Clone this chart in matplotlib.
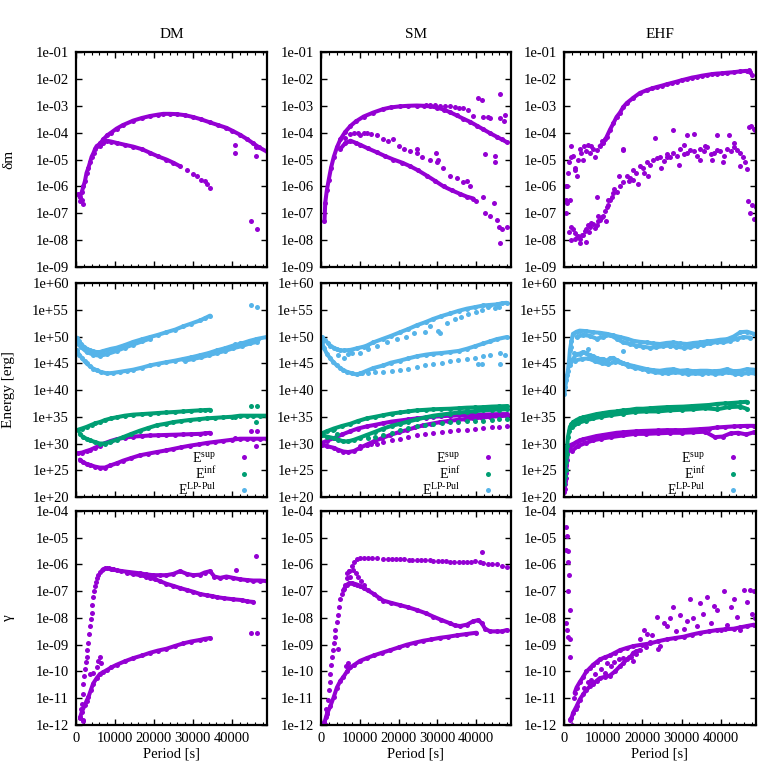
import matplotlib.pyplot as plt
import numpy as np
from matplotlib.ticker import FixedLocator, FuncFormatter, MultipleLocator

plt.rcParams['font.family'] = ['Liberation Serif', 'DejaVu Serif']
plt.rcParams['mathtext.fontset'] = 'custom'
plt.rcParams['mathtext.rm'] = 'Liberation Serif'
plt.rcParams['mathtext.it'] = 'Liberation Serif:italic'

PURPLE = '#9400d3'
GREEN = '#009e73'
BLUE = '#56b4e9'

titles = ['DM', 'SM', 'EHF']
ylabels = ['δm', 'Energy [erg]', 'γ']
legend_labels = [r'E$^{\rm sup}$', r'E$^{\rm inf}$', r'E$^{\rm LP\text{-}Pul}$']

# ---- delta m, DM  (values are log10)
dm_dm_rise_x = [600, 1000, 1500, 1900, 2300, 2700, 3200, 3600, 4000, 4500, 4900, 5300, 5800, 6200]
dm_dm_rise_y = [-6.3, -6.4, -6.2, -6.0, -5.8, -5.5, -5.3, -5.1, -4.9, -4.75, -4.6, -4.5, -4.45, -4.4]
dm_dm_upper_x = [6200, 7000, 8000, 9000, 10400, 12000, 14700, 17000, 19000, 21000, 22400, 24000, 25800, 28000,
                 30100, 32000, 34400, 36500, 38600, 40000, 42000, 44000, 45500, 47000, 48900]
dm_dm_upper_y = [-4.4, -4.25, -4.1, -4.0, -3.85, -3.72, -3.55, -3.45, -3.38, -3.33, -3.3, -3.3, -3.31, -3.35,
                 -3.42, -3.5, -3.62, -3.72, -3.82, -3.92, -4.07, -4.25, -4.4, -4.55, -4.7]
dm_dm_lower_x = [6200, 7000, 7900, 9000, 10400, 12500, 14700, 17000, 19000, 21000, 23200, 25000, 26700]
dm_dm_lower_y = [-4.5, -4.38, -4.3, -4.33, -4.38, -4.45, -4.52, -4.62, -4.75, -4.88, -5.0, -5.12, -5.25]
dm_dm_out_x = [1100, 1450, 1900, 28500, 30100, 31000, 32000, 33000, 33500, 34400, 40900, 40900, 46300, 46300, 44800, 46500]
dm_dm_out_y = [-6.55, -6.5, -6.65, -5.4, -5.55, -5.6, -5.75, -5.8, -5.9, -6.06, -4.45, -4.75, -4.55, -4.85, -7.3, -7.6]

# ---- delta m, SM
sm_dm_upper_x = [900, 1100, 1500, 2000, 2600, 3300, 4100, 5000, 6200, 7600, 9000, 11000, 13500, 16100, 18000,
                 20400, 22500, 24700, 26500, 28200, 30000, 31600, 33300, 35000, 36700, 38500, 40200, 41900,
                 43600, 45300, 46600, 47900]
sm_dm_upper_y = [-7.3, -6.6, -6.15, -5.75, -5.3, -4.9, -4.55, -4.25, -3.98, -3.75, -3.58, -3.4, -3.25, -3.12,
                 -3.06, -3.02, -3.0, -2.99, -3.0, -3.02, -3.07, -3.14, -3.24, -3.36, -3.48, -3.6, -3.74,
                 -3.88, -4.02, -4.15, -4.25, -4.35]
sm_dm_top_x = [27000, 28200, 29500, 30800, 32000, 33300, 34500, 35700, 36700, 37800, 39300, 40600, 41600,
               41900, 43000, 43600, 46200, 46200, 47500, 47200]
sm_dm_top_y = [-2.96, -2.97, -2.98, -2.99, -3.0, -3.02, -3.05, -3.08, -3.1, -3.15, -3.38, -2.7, -2.8,
               -3.4, -3.4, -3.45, -2.55, -3.45, -3.35, -3.55]
sm_dm_lower_x = [5000, 6200, 7600, 9000, 10100, 12000, 14400, 16500, 18700, 21000, 23000, 25000, 27300, 29500,
                 31600, 33800, 35900, 37600, 39300]
sm_dm_lower_y = [-4.6, -4.4, -4.3, -4.38, -4.45, -4.58, -4.73, -4.87, -5.0, -5.12, -5.25, -5.4, -5.6, -5.8,
                 -6.0, -6.15, -6.28, -6.38, -6.45]
sm_dm_scat_x = [6200, 7600, 8600, 9500, 10100, 11000, 11800, 13000, 14400, 16100, 17400, 18700, 20000, 21500,
                23000, 24700, 26000, 28000, 29900, 31500, 33300, 35000, 36500, 37600, 38500, 40100, 41900,
                42300, 43600, 44500, 45300, 46000, 46600, 47900, 46200, 24700, 29600, 30300, 42400, 44900, 44900]
sm_dm_scat_y = [-4.2, -4.05, -4.0, -4.0, -4.1, -4.0, -4.0, -4.05, -4.1, -4.25, -4.3, -4.25, -4.5, -4.6,
                -4.7, -4.75, -4.9, -5.0, -5.1, -5.3, -5.6, -5.7, -5.85, -5.8, -6.0, -6.55, -6.4,
                -7.0, -7.1, -6.6, -7.25, -7.5, -7.6, -7.5, -8.1, -4.6, -4.75, -5.0, -4.8, -4.85, -5.1]

# ---- delta m, EHF
ehf_dm_upper_x = [9100, 10000, 10900, 11700, 12600, 13400, 14300, 15100, 16000, 17700, 19400, 21100, 22500,
                  23700, 25000, 26200, 27500, 28800, 30000, 31400, 32700, 33900, 35200, 36500, 37800, 39100,
                  40400, 41600, 43300, 45000, 46600]
ehf_dm_upper_y = [-4.5, -4.4, -4.15, -3.9, -3.65, -3.42, -3.25, -3.05, -2.9, -2.7, -2.52, -2.42, -2.35,
                  -2.3, -2.25, -2.2, -2.15, -2.1, -2.05, -2.0, -1.95, -1.92, -1.88, -1.85, -1.82, -1.8,
                  -1.79, -1.77, -1.75, -1.72, -1.7]
ehf_dm_uscat_x = [400, 500, 600, 700, 800, 1000, 1300, 1700, 1800, 2300, 2700, 2900, 3200, 3600, 4000, 4300,
                  4900, 5000, 5700, 6000, 6600, 7000, 7400, 8000, 8300, 9600, 10500, 15000, 47200, 47600, 48000]
ehf_dm_uscat_y = [-6.0, -7.0, -6.5, -6.6, -6.0, -5.5, -5.1, -4.9, -4.5, -4.85, -5.4, -5.3, -5.6, -5.0, -4.6,
                  -4.75, -5.0, -4.5, -4.7, -4.45, -4.75, -4.5, -4.6, -4.9, -4.65, -4.3, -4.25, -4.65,
                  -1.65, -1.75, -1.85]
ehf_dm_lower_x = [1500, 1900, 2300, 2700, 3200, 3600, 4000, 4500, 4900, 5300, 5700, 6100, 6600, 7000, 7400,
                  7900, 8300, 8700, 9100, 9600, 10000, 10500, 10900, 11300, 11700, 12200, 12600, 13400, 14300,
                  15100, 16000, 16800, 17700, 18500, 19400, 20200, 21100, 22000, 22800, 23700, 24500, 25400,
                  26200, 27100, 27900, 28800, 29600, 30500, 31400, 32200, 33100, 33900, 34800, 35700, 36500,
                  37400, 38200, 39100, 39900, 40800, 41600, 42500, 43300, 44200, 45000, 45700, 46300]
ehf_dm_lower_y = [-6.5, -7.5, -7.6, -7.75, -7.9, -7.85, -7.95, -7.8, -7.8, -7.65, -7.6, -7.45, -7.5, -7.35,
                  -7.4, -7.55, -7.45, -7.3, -7.25, -7.15, -7.1, -6.9, -6.75, -6.7, -6.5, -6.4, -6.25, -6.2,
                  -6.0, -5.85, -5.6, -5.7, -5.4, -5.5, -5.25, -5.3, -5.1, -5.2, -5.0, -4.95, -4.9, -5.05,
                  -4.8, -4.9, -4.75, -4.85, -4.6, -4.8, -4.75, -4.65, -4.7, -4.85, -4.6, -4.7, -4.55, -4.8,
                  -4.75, -4.65, -4.7, -4.85, -4.6, -4.7, -4.55, -4.65, -4.75, -4.9, -5.1]
ehf_dm_lscat_x = [1300, 1800, 2900, 4200, 5500, 6500, 8300, 8800, 10800, 11200, 12800, 14000, 15100, 16600,
                  17700, 18900, 20300, 21500, 23200, 24800, 26200, 27900, 29300, 30500, 31300, 33100, 34600,
                  36000, 37800, 39100, 40500, 42000, 43500, 44800, 46600, 47200, 47800, 48400, 48800, 47000,
                  47500, 48000, 48600, 48900]
ehf_dm_lscat_y = [-7.7, -8.0, -7.95, -8.1, -8.05, -7.7, -6.4, -7.1, -7.3, -6.5, -6.1, -5.6, -4.6, -5.8,
                  -5.75, -5.9, -5.5, -5.6, -4.2, -5.3, -4.9, -3.9, -5.2, -4.45, -4.1, -4.05, -5.0, -4.5,
                  -5.0, -4.1, -5.1, -4.1, -4.4, -5.25, -5.35, -3.8, -3.75, -3.85, -3.9, -6.55, -7.0, -6.7,
                  -7.2, -6.75]

# ---- energy, DM
dm_lp_upper_x = [200, 700, 1300, 2000, 2800, 3600, 4400, 5300, 6100, 7000, 8000, 9000, 10400, 12500, 14700,
                 17000, 19000, 21000, 23200, 25500, 27500, 29500, 31800, 33000, 34400]
dm_lp_upper_y = [49.8, 49.2, 48.6, 48.1, 47.7, 47.4, 47.2, 47.1, 47.1, 47.3, 47.5, 47.7, 47.9, 48.4, 49.0,
                 49.5, 49.9, 50.3, 50.8, 51.3, 51.9, 52.4, 53.0, 53.4, 53.9]
dm_lp_upper2_x = [200, 1300, 2800, 4400, 6100, 8000, 10400, 12500, 14700, 17000, 19000]
dm_lp_upper2_y = [48.8, 48.0, 47.1, 46.6, 46.4, 46.7, 47.3, 47.9, 48.5, 49.1, 49.6]
dm_lp_lower_x = [200, 800, 1500, 2200, 2700, 3500, 4400, 5300, 6300, 7900, 9500, 11300, 13000, 14700, 17000,
                 19000, 21000, 23200, 25500, 27500, 29500, 31800, 34000, 36100, 38200, 40300, 42500, 44600,
                 46800, 48900]
dm_lp_lower_y = [47.4, 46.6, 46.0, 45.4, 45.0, 44.5, 44.0, 43.7, 43.4, 43.1, 43.2, 43.4, 43.6, 43.8, 44.2,
                 44.6, 44.9, 45.2, 45.5, 45.8, 46.1, 46.5, 46.9, 47.4, 47.8, 48.3, 48.7, 49.2, 49.6, 49.9]
dm_lp_lower2_x = [28000, 30000, 32000, 34000, 36100, 38200, 40300, 42500, 44600, 46500]
dm_lp_lower2_y = [45.5, 45.8, 46.1, 46.5, 46.9, 47.3, 47.8, 48.2, 48.7, 49.0]
dm_lp_out_x = [44800, 46500, 40900, 42000, 46300]
dm_lp_out_y = [55.8, 55.5, 48.6, 48.8, 49.5]
dm_inf_upper_x = [600, 1500, 2700, 4000, 5000, 6100, 7500, 9000, 10400, 12500, 14700, 17000, 19000, 21000,
                  23200, 25500, 27500, 29500, 31800, 33000, 34400]
dm_inf_upper_y = [32.6, 32.8, 33.1, 33.5, 33.8, 34.0, 34.4, 34.7, 34.9, 35.2, 35.4, 35.5, 35.6, 35.7,
                  35.8, 35.9, 36.0, 36.1, 36.2, 36.25, 36.3]
dm_low_x = [1000, 1800, 2700, 3600, 4800, 6100, 7400, 8800, 10400, 12100, 14200, 16400, 18500, 20700, 23000,
            25000, 27000, 29200, 31500, 33500, 35600, 37800, 40000, 42100, 44000, 45500, 47200, 48900]
dm_inf_lower_y = [31.8, 31.2, 30.9, 30.6, 30.3, 30.0, 30.0, 30.3, 30.7, 31.2, 31.8, 32.4, 32.9, 33.4, 33.7,
                  34.0, 34.2, 34.4, 34.55, 34.7, 34.8, 34.9, 35.0, 35.2, 35.2, 35.2, 35.2, 35.2]
dm_inf_out_x = [44800, 46500, 46300, 40900]
dm_inf_out_y = [37.0, 37.0, 34.0, 35.0]
dm_sup_upper_x = [600, 1500, 2700, 3600, 4800, 6100, 7500, 9000, 10400, 12500, 14700, 17000, 19000, 21000,
                  23200, 25500, 27500, 29500, 31800, 33000, 34400]
dm_sup_upper_y = [28.2, 28.3, 28.6, 28.8, 29.2, 29.6, 30.1, 30.5, 30.8, 31.1, 31.3, 31.4, 31.5, 31.55,
                  31.6, 31.65, 31.7, 31.75, 31.8, 31.9, 32.0]
dm_sup_lower_y = [27.0, 26.5, 26.2, 26.0, 25.7, 25.5, 25.5, 25.9, 26.3, 26.8, 27.3, 27.8, 28.1, 28.4, 28.7,
                  29.0, 29.3, 29.6, 29.85, 30.1, 30.3, 30.5, 30.7, 30.9, 30.9, 30.9, 30.9, 30.9]
dm_sup_out_x = [44800, 46500, 46300, 40900]
dm_sup_out_y = [32.4, 32.4, 29.6, 31.0]

# ---- energy, SM
sm_lp_upper_x = [200, 1000, 1800, 2400, 3300, 4100, 5000, 6000, 7600, 9300, 11000, 11800, 13500, 16100, 18000,
                 20400, 22500, 24700, 27000, 29000, 31000, 33300, 35500, 37600, 39800, 41900, 43600, 45300,
                 46600, 47900]
sm_lp_upper_y = [49.9, 49.3, 48.8, 48.3, 47.9, 47.6, 47.4, 47.4, 47.5, 47.8, 48.1, 48.3, 48.9, 49.6, 50.1,
                 50.8, 51.4, 52.1, 52.7, 53.3, 53.8, 54.3, 54.8, 55.2, 55.5, 55.8, 55.9, 56.0, 56.2, 56.3]
sm_lp_uscat_x = [4500, 6000, 7000, 8000, 10000, 12000, 14500, 17000, 19500, 22000, 24000, 26900, 28000, 30300,
                 30800, 32500, 34500, 36000, 38000, 40000, 41500, 43000, 44800, 46000]
sm_lp_uscat_y = [46.5, 45.9, 46.8, 46.9, 47.0, 47.6, 48.2, 48.9, 49.5, 50.0, 50.6, 50.8, 51.9, 51.1,
                 50.7, 52.6, 53.2, 53.6, 54.2, 54.5, 55.0, 55.5, 55.3, 55.5]
sm_lp_lower_x = [200, 800, 1500, 2300, 3200, 4100, 5000, 5800, 6700, 8000, 9300, 10500, 11800, 13500, 16100,
                 18000, 20400, 22500, 24700, 27000, 29000, 31000, 33300, 35500, 37600, 39800, 41900, 43600,
                 45300, 47900]
sm_lp_lower_y = [49.0, 47.8, 46.8, 46.0, 45.2, 44.6, 44.1, 43.7, 43.4, 43.1, 42.9, 43.2, 43.6, 44.1, 44.6,
                 45.1, 45.5, 45.9, 46.3, 46.6, 46.8, 46.9, 47.1, 47.3, 47.7, 48.2, 48.7, 49.1, 49.5, 49.9]
sm_lp_low2_x = [10100, 12000, 14000, 16100, 18200, 20400, 22500, 24700, 26800, 29000, 31100, 33300, 35400,
                37600, 39700, 40600, 41600, 41900, 43600, 46200, 46200, 47500]
sm_lp_low2_y = [43.1, 43.1, 43.3, 43.4, 43.55, 43.7, 44.0, 44.3, 44.6, 44.9, 45.1, 45.4, 45.6,
                45.8, 46.0, 44.9, 44.9, 46.3, 46.5, 44.9, 46.9, 46.5]
sm_up_x = [200, 1500, 3300, 5500, 7600, 9500, 11800, 14000, 16100, 18200, 20400, 22500, 24700, 27000, 29000,
           31000, 33300, 35500, 37600, 39800, 41900, 44000, 46000, 47900]
sm_inf_upper_y = [31.9, 32.3, 32.8, 33.3, 33.7, 34.2, 34.7, 35.0, 35.3, 35.6, 35.8, 36.0, 36.2, 36.3, 36.4,
                  36.45, 36.5, 36.6, 36.7, 36.75, 36.8, 36.9, 36.95, 37.0]
sm_sup_upper_y = [30.1, 30.5, 31.0, 31.7, 32.3, 32.8, 33.2, 33.5, 33.8, 34.1, 34.3, 34.5, 34.7, 34.85, 35.0,
                  35.1, 35.2, 35.25, 35.3, 35.35, 35.4, 35.45, 35.5, 35.5]
sm_inf_lower_x = [200, 1500, 3300, 4500, 5800, 7000, 8500, 10000, 11800, 14000, 16100, 18200, 20400, 22500,
                  24700, 27000, 29000, 31000, 33300, 35500, 37600, 39800, 41900, 44000, 46000, 47900]
sm_inf_lower_y = [31.6, 31.3, 31.0, 30.7, 30.4, 30.4, 30.7, 31.1, 31.6, 32.2, 32.8, 33.3, 33.7, 34.1,
                  34.5, 34.9, 35.2, 35.4, 35.6, 35.8, 35.9, 36.05, 36.2, 36.3, 36.35, 36.4]
sm_inf_low2_x = [3000, 4000, 12000, 14000, 16100, 18200, 20400, 22500, 24700, 26800, 29000, 31100, 33300,
                 35400, 37600, 39700, 41900, 44000, 46000, 47900]
sm_inf_low2_y = [32.5, 31.8, 31.0, 31.3, 31.6, 32.0, 32.5, 32.9, 33.3, 33.5, 33.7, 33.85, 34.0,
                 34.1, 34.2, 34.25, 34.3, 34.4, 34.5, 34.6]
sm_sup_lower_x = [200, 1500, 3300, 4500, 5800, 7000, 8500, 10100, 11800, 13600, 15700, 17900, 20000, 22100,
                  24300, 26400, 28500, 30700, 32800, 35000, 37100, 39300, 41500, 43700, 45800, 47900]
sm_sup_lower_y = [29.8, 29.5, 29.2, 28.8, 28.5, 28.4, 28.6, 29.2, 29.8, 30.4, 31.0, 31.6, 32.1, 32.5,
                  33.0, 33.4, 33.7, 34.0, 34.2, 34.4, 34.55, 34.7, 34.85, 35.0, 35.1, 35.2]
sm_sup_low2_x = [10100, 11800, 13000, 14400, 16100, 18200, 20400, 22500, 24700, 26800, 29000, 31100, 33300,
                 35400, 37600, 39700, 41900, 44000, 46000, 47900]
sm_sup_low2_y = [29.6, 29.8, 29.9, 29.9, 30.3, 30.6, 30.9, 31.2, 31.5, 31.7, 31.9, 32.1, 32.3,
                 32.45, 32.6, 32.75, 32.9, 33.0, 33.1, 33.2]

# ---- energy, EHF
ehf_lp_upper_x = [100, 300, 600, 800, 1000, 1300, 1500, 1900, 2300, 3200, 4000, 5700, 7400, 9100, 10900, 12600,
                  14300, 16000, 17700, 19400, 21100, 22800, 24500, 26200, 27900, 29600, 31400, 33100, 34800,
                  36500, 38200, 39900, 41600, 43300, 45000, 46700, 48500]
ehf_lp_upper_y = [39.3, 40.5, 41.8, 42.8, 43.6, 45.5, 47.4, 49.2, 50.5, 50.9, 51.1, 51.0, 50.8, 50.7, 50.5,
                  50.2, 49.9, 49.6, 49.2, 49.0, 48.9, 48.7, 48.6, 48.8, 48.9, 48.7, 48.6, 48.8, 48.9, 49.1,
                  49.2, 49.4, 49.5, 50.0, 50.8, 50.9, 50.5]
ehf_lp_upper2_x = [3200, 4900, 6600, 8300, 10000, 11700, 13400, 15100, 16800, 18500, 20200, 21900, 23600,
                   25300, 27000, 28700, 30500, 32200, 33900, 35600, 37300, 39000, 40700, 42400, 44100, 45800,
                   47600]
ehf_lp_upper2_y = [49.9, 50.3, 50.1, 49.6, 49.9, 50.3, 49.6, 48.9, 48.6, 48.3, 48.1, 47.9, 48.0, 48.2, 48.3,
                   48.1, 47.9, 48.0, 48.3, 48.5, 48.7, 49.0, 48.9, 49.2, 49.6, 49.9, 49.8]
ehf_lp_lower_x = [1500, 2300, 3200, 4000, 4900, 5700, 6600, 7400, 8300, 9100, 10000, 10900, 11700, 12600,
                  13400, 14300, 15100, 16000, 17700, 19400, 21100, 22800, 24500, 26200, 27900, 29600, 31400,
                  33100, 34800, 36500, 38200, 39900, 41600, 43300, 45000, 46700, 48500]
ehf_lp_lower_y = [44.6, 45.8, 46.7, 46.8, 47.1, 46.9, 46.5, 46.3, 46.0, 45.8, 45.8, 45.5, 45.9, 46.0, 45.6,
                  45.3, 45.0, 44.8, 44.5, 44.2, 43.9, 43.7, 43.6, 43.8, 43.9, 43.6, 43.7, 43.5, 43.6, 43.6,
                  43.5, 43.6, 43.9, 43.5, 43.6, 43.9, 43.8]
ehf_lp_lower2_x = [2800, 4500, 6200, 7900, 9600, 11300, 13000, 14700, 16400, 18100, 19800, 21500, 23200, 24900,
                   26600, 28300, 30000, 31700, 33400, 35100, 36800, 38500, 40200, 41900, 43600, 45300, 47000,
                   48700]
ehf_lp_lower2_y = [45.5, 45.8, 45.9, 45.4, 45.0, 44.8, 45.3, 45.1, 44.5, 44.1, 44.0, 43.6, 43.3, 43.2, 43.1,
                   43.3, 43.2, 43.0, 43.1, 43.0, 43.2, 43.0, 43.1, 43.3, 43.0, 43.0, 43.2, 43.1]
ehf_lp_scat_x = [1800, 6200, 15000, 27000, 31000, 2500]
ehf_lp_scat_y = [48.0, 47.6, 47.3, 48.2, 48.5, 47.0]
ehf_inf_x = [100, 300, 600, 800, 1000, 1300, 1500, 1900, 2300, 3200, 4000, 4900, 6600, 8300, 10000, 11700,
             13400, 15100, 16800, 18500, 20200, 22000, 24000, 26200, 28300, 30500, 32600, 34800, 37000, 39100,
             41200, 43300, 45000, 46600]
ehf_inf_y = [22.5, 25.0, 27.5, 29.5, 31.2, 32.3, 33.1, 33.6, 34.0, 34.4, 34.7, 34.9, 35.2, 35.5, 35.7, 35.9,
             36.0, 36.2, 36.3, 36.5, 36.5, 36.6, 36.7, 36.8, 36.85, 36.9, 37.0, 37.1, 37.2, 37.4, 37.5, 37.6,
             37.7, 37.8]
ehf_inf2_x = [2000, 3500, 5500, 7500, 9500, 12000, 15000, 18000, 21000, 24000, 27000, 30000, 33000, 36000,
              39100, 42000, 45000, 46600]
ehf_inf2_y = [33.0, 33.8, 34.3, 34.7, 35.0, 35.3, 35.6, 35.9, 36.0, 36.0, 36.2, 36.3, 36.4, 36.6, 36.4, 36.8,
              36.9, 36.5]
ehf_inf_scat_x = [200, 400, 500, 700]
ehf_inf_scat_y = [24.0, 26.5, 25.0, 28.0]
ehf_sup_x = [100, 300, 600, 800, 1000, 1300, 1500, 1900, 2300, 3200, 4000, 4900, 6600, 8300, 10000, 11700,
             13400, 15100, 16800, 18500, 20200, 22000, 24000, 26200, 28300, 30500, 32600, 34800, 37000, 39100,
             41200, 43300, 45000, 46700, 48500]
ehf_sup_y = [20.9, 22.5, 25.0, 27.0, 28.7, 29.2, 29.6, 29.8, 29.9, 30.3, 30.6, 30.8, 31.1, 31.4, 31.6, 31.8,
             32.0, 32.1, 32.2, 32.3, 32.35, 32.4, 32.45, 32.5, 32.5, 32.5, 32.6, 32.7, 32.8, 33.0, 33.1, 33.2,
             33.25, 33.3, 33.3]
ehf_sup2_x = [2000, 3500, 5500, 7500, 9500, 12000, 15000, 18000, 21000, 24000, 27000, 30000, 33000, 36000,
              38500, 40500, 42500, 44500, 46500, 48500]
ehf_sup2_y = [28.6, 29.5, 30.1, 30.6, 30.9, 31.2, 31.5, 31.8, 31.8, 31.9, 32.0, 32.0, 32.1, 32.2, 31.2, 31.3,
              31.9, 32.0, 31.7, 32.1]
ehf_sup_scat_x = [200, 300, 400, 500, 600]
ehf_sup_scat_y = [21.5, 23.0, 24.5, 23.5, 26.0]

# ---- gamma, DM
dm_g_rise_x = [1000, 1300, 1500, 1700, 1900, 2100, 2300, 2500, 2700, 2900, 3200, 3400, 3600, 3800, 4000, 4200,
               4400, 4700, 4900, 5100, 5300, 5700, 6100, 6600, 7000, 7500, 7900, 8500, 9000, 9600]
dm_g_rise_y = [-11.7, -11.4, -11.2, -10.85, -10.45, -10.15, -9.9, -9.65, -9.45, -9.2, -8.95, -8.6, -8.3, -8.05,
               -7.8, -7.5, -7.2, -7.0, -6.8, -6.65, -6.5, -6.38, -6.28, -6.2, -6.17, -6.15, -6.14, -6.15,
               -6.17, -6.18]
dm_g_flat_x = [9600, 10400, 11500, 13000, 14700, 16400, 18000, 19800, 21500, 23200, 25000, 26700, 28400, 30100,
               31800, 33000, 34400, 35500, 37000, 38600, 40300, 42000, 43800, 45500, 47200, 48900]
dm_g_flat_y = [-6.18, -6.22, -6.24, -6.27, -6.3, -6.33, -6.37, -6.4, -6.4, -6.4, -6.35, -6.25, -6.35, -6.4,
               -6.38, -6.3, -6.25, -6.45, -6.5, -6.45, -6.5, -6.55, -6.58, -6.6, -6.6, -6.62]
dm_g_dec_x = [13000, 14700, 16400, 18000, 19000, 20300, 21500, 23200, 25000, 26700, 28400, 30100, 31800, 33500,
              35000, 36100, 38000, 40300, 42500, 44000, 45500]
dm_g_dec_y = [-6.3, -6.35, -6.4, -6.45, -6.5, -6.55, -6.62, -6.72, -6.8, -6.88, -6.95, -7.02, -7.1, -7.15,
              -7.18, -7.22, -7.26, -7.3, -7.33, -7.38, -7.4]
dm_g_low_x = [1000, 1500, 2300, 2700, 3200, 3800, 4400, 5300, 6100, 7000, 7900, 9000, 10400, 12500, 14700,
              17000, 19000, 21000, 23200, 25300, 27500, 29500, 31800, 33000, 34400]
dm_g_low_y = [-11.75, -11.5, -11.25, -11.1, -10.95, -10.7, -10.45, -10.25, -10.1, -10.02, -9.95, -9.85, -9.75,
              -9.62, -9.5, -9.4, -9.3, -9.22, -9.15, -9.05, -8.95, -8.88, -8.82, -8.78, -8.75]
dm_g_out_x = [41000, 46300, 44800, 46500, 3600, 4400, 5300, 5700, 6100, 6500, 1700, 1900]
dm_g_out_y = [-6.2, -5.7, -8.55, -8.55, -10.1, -10.05, -9.85, -9.6, -9.45, -9.7, -11.8, -11.85]

# ---- gamma, SM
sm_g_rise_x = [900, 1200, 1400, 1700, 2000, 2200, 2400, 2600, 2800, 3000, 3300, 3500, 3700, 4000, 4300, 4600,
               5000, 5400, 5800, 6200, 6700, 7300, 8000, 8600, 9300, 10100, 11000, 12000, 13200, 14400]
sm_g_rise_y = [-11.95, -11.7, -11.4, -11.05, -10.7, -10.4, -10.1, -9.75, -9.45, -9.2, -8.95, -8.7, -8.45,
               -8.15, -7.9, -7.6, -7.3, -7.1, -6.95, -6.75, -6.5, -6.25, -6.05, -5.9, -5.8, -5.76, -5.75,
               -5.75, -5.75, -5.75]
sm_g_flat_x = [16100, 17200, 18300, 19400, 20400, 21500, 22600, 23600, 24700, 25800, 26900, 28000, 29000, 30100,
               31200, 32200, 33300, 34400, 35500, 36500, 37600, 38700, 39800, 40900, 41900, 43000, 44100, 45300,
               46600, 47900]
sm_g_flat_y = [-5.8, -5.8, -5.8, -5.8, -5.8, -5.81, -5.82, -5.83, -5.83, -5.84, -5.84, -5.85, -5.86, -5.86,
               -5.87, -5.88, -5.89, -5.9, -5.9, -5.91, -5.91, -5.9, -5.88, -5.9, -5.95, -5.97, -5.99, -6.0,
               -6.05, -6.1]
sm_g_mid_x = [6000, 6700, 7300, 8000, 8600, 9300, 10100, 11000, 12000, 13600, 15000, 16100, 18000, 20400, 22500,
              24700, 27000, 29000, 31000, 33300, 34600, 35900, 37600, 39300, 40600, 41500, 42300, 43600, 45300,
              46600, 47900]
sm_g_mid_y = [-6.9, -6.75, -6.7, -6.7, -6.72, -6.75, -6.8, -6.88, -6.96, -7.1, -7.25, -7.35, -7.43, -7.52,
              -7.6, -7.7, -7.82, -7.95, -8.07, -8.2, -8.28, -8.3, -8.25, -8.12, -8.08, -8.2, -8.4, -8.5,
              -8.5, -8.5, -8.45]
sm_g_peak_x = [6700, 7300, 7600, 8300, 9000, 9600, 10200, 11000]
sm_g_peak_y = [-6.3, -6.25, -6.45, -6.2, -6.3, -6.45, -6.6, -6.75]
sm_g_low_x = [900, 1500, 2400, 3300, 4100, 5000, 5800, 6700, 7600, 8600, 10100, 11800, 13600, 15700, 17900,
              20000, 22100, 24300, 26400, 28500, 30700, 32800, 35000, 37500, 40100]
sm_g_low_y = [-11.9, -11.6, -11.3, -10.95, -10.6, -10.35, -10.2, -10.0, -9.85, -9.75, -9.6, -9.5, -9.4, -9.3,
              -9.2, -9.1, -9.0, -8.92, -8.85, -8.8, -8.74, -8.7, -8.65, -8.6, -8.55]
sm_g_out_x = [41600, 4500, 6500, 7000, 1200, 1500]
sm_g_out_y = [-5.55, -9.15, -9.8, -9.7, -12.0, -11.5]

# ---- gamma, EHF
ehf_g_col_x = [600, 850, 600, 1000, 1000, 1200, 1000, 1450, 600, 850, 1000, 1450, 1600]
ehf_g_col_y = [-4.6, -4.95, -5.45, -5.5, -5.9, -6.4, -7.0, -7.7, -8.2, -8.45, -8.7, -8.8, -9.45]
ehf_g_upper_x = [2700, 3200, 4000, 4900, 5700, 6600, 7400, 8300, 9100, 10400, 11700, 13000, 14300, 16000, 17700,
                 19800, 22000, 24000, 26200, 28300, 30500, 32600, 34800, 37000, 39100, 41200, 43300, 45000,
                 46700, 48500]
ehf_g_upper_y = [-10.8, -10.6, -10.4, -10.2, -10.0, -9.88, -9.75, -9.65, -9.55, -9.47, -9.4, -9.3, -9.2,
                 -9.12, -9.05, -9.0, -8.95, -8.87, -8.8, -8.75, -8.7, -8.62, -8.55, -8.5, -8.45, -8.42,
                 -8.4, -8.35, -8.3, -8.25]
ehf_g_lower_x = [1500, 1900, 2300, 3200, 4000, 4900, 5700, 6600, 7400, 8300, 9100, 10400, 11700, 13000, 14300,
                 15100, 16000, 17000, 17700, 18500, 19400]
ehf_g_lower_y = [-11.8, -11.75, -11.55, -11.3, -11.05, -10.85, -10.7, -10.55, -10.45, -10.35, -10.25, -10.2,
                 -10.15, -10.0, -9.8, -9.7, -9.55, -9.45, -9.3, -9.25, -9.2]
ehf_g_scat_x = [2000, 2500, 3000, 5000, 6000, 7000, 8000, 9500, 10500, 11000, 12000, 12800, 14000, 15000, 16500,
                17500, 18500, 19400, 20300, 21100, 22000, 23700, 24500, 25500, 26200, 27000, 27900, 28500,
                29500, 30500, 31300, 32200, 33000, 34000, 34800, 35500, 36500, 37500, 38200, 39100, 40000,
                40800, 41600, 42500, 43300, 44200, 45000, 45900, 46600, 47400, 48000, 48500, 48800, 24000,
                22500, 21000]
ehf_g_scat_y = [-12.0, -11.0, -11.4, -10.6, -10.4, -10.3, -10.1, -9.9, -10.05, -9.7, -9.8, -9.65, -9.55, -9.5,
                -9.45, -9.6, -9.35, -8.8, -8.45, -8.6, -8.9, -7.95, -9.05, -8.2, -8.3, -8.0, -7.6, -8.5,
                -7.9, -8.4, -8.1, -7.3, -8.0, -8.3, -7.45, -7.85, -7.2, -8.2, -7.55, -7.7, -8.45, -7.0,
                -8.25, -7.6, -7.3, -7.95, -8.45, -6.95, -7.4, -6.95, -7.85, -7.0, -8.0, -9.15, -8.65, -9.1]

# (x, log10 y, colour, connected?)
panels = [
    [
        [(dm_dm_rise_x, dm_dm_rise_y, PURPLE, True), (dm_dm_upper_x, dm_dm_upper_y, PURPLE, True),
         (dm_dm_lower_x, dm_dm_lower_y, PURPLE, True), (dm_dm_out_x, dm_dm_out_y, PURPLE, False)],
        [(sm_dm_upper_x, sm_dm_upper_y, PURPLE, True), (sm_dm_lower_x, sm_dm_lower_y, PURPLE, True),
         (sm_dm_top_x, sm_dm_top_y, PURPLE, False), (sm_dm_scat_x, sm_dm_scat_y, PURPLE, False)],
        [(ehf_dm_upper_x, ehf_dm_upper_y, PURPLE, True), (ehf_dm_uscat_x, ehf_dm_uscat_y, PURPLE, False),
         (ehf_dm_lower_x, ehf_dm_lower_y, PURPLE, False), (ehf_dm_lscat_x, ehf_dm_lscat_y, PURPLE, False)],
    ],
    [
        [(dm_sup_upper_x, dm_sup_upper_y, PURPLE, True), (dm_low_x, dm_sup_lower_y, PURPLE, True),
         (dm_sup_out_x, dm_sup_out_y, PURPLE, False),
         (dm_inf_upper_x, dm_inf_upper_y, GREEN, True), (dm_low_x, dm_inf_lower_y, GREEN, True),
         (dm_inf_out_x, dm_inf_out_y, GREEN, False),
         (dm_lp_upper_x, dm_lp_upper_y, BLUE, True), (dm_lp_upper2_x, dm_lp_upper2_y, BLUE, True),
         (dm_lp_lower_x, dm_lp_lower_y, BLUE, True), (dm_lp_lower2_x, dm_lp_lower2_y, BLUE, True),
         (dm_lp_out_x, dm_lp_out_y, BLUE, False)],
        [(sm_up_x, sm_sup_upper_y, PURPLE, True), (sm_sup_lower_x, sm_sup_lower_y, PURPLE, True),
         (sm_sup_low2_x, sm_sup_low2_y, PURPLE, False),
         (sm_up_x, sm_inf_upper_y, GREEN, True), (sm_inf_lower_x, sm_inf_lower_y, GREEN, True),
         (sm_inf_low2_x, sm_inf_low2_y, GREEN, False),
         (sm_lp_upper_x, sm_lp_upper_y, BLUE, True), (sm_lp_uscat_x, sm_lp_uscat_y, BLUE, False),
         (sm_lp_lower_x, sm_lp_lower_y, BLUE, True), (sm_lp_low2_x, sm_lp_low2_y, BLUE, False)],
        [(ehf_sup_x, ehf_sup_y, PURPLE, True), (ehf_sup2_x, ehf_sup2_y, PURPLE, True),
         (ehf_sup_scat_x, ehf_sup_scat_y, PURPLE, False),
         (ehf_inf_x, ehf_inf_y, GREEN, True), (ehf_inf2_x, ehf_inf2_y, GREEN, True),
         (ehf_inf_scat_x, ehf_inf_scat_y, GREEN, False),
         (ehf_lp_upper_x, ehf_lp_upper_y, BLUE, True), (ehf_lp_upper2_x, ehf_lp_upper2_y, BLUE, True),
         (ehf_lp_lower_x, ehf_lp_lower_y, BLUE, True), (ehf_lp_lower2_x, ehf_lp_lower2_y, BLUE, True),
         (ehf_lp_scat_x, ehf_lp_scat_y, BLUE, False)],
    ],
    [
        [(dm_g_rise_x, dm_g_rise_y, PURPLE, False), (dm_g_flat_x, dm_g_flat_y, PURPLE, True),
         (dm_g_dec_x, dm_g_dec_y, PURPLE, True), (dm_g_low_x, dm_g_low_y, PURPLE, True),
         (dm_g_out_x, dm_g_out_y, PURPLE, False)],
        [(sm_g_rise_x, sm_g_rise_y, PURPLE, False), (sm_g_flat_x, sm_g_flat_y, PURPLE, False),
         (sm_g_mid_x, sm_g_mid_y, PURPLE, True), (sm_g_peak_x, sm_g_peak_y, PURPLE, False),
         (sm_g_low_x, sm_g_low_y, PURPLE, True), (sm_g_out_x, sm_g_out_y, PURPLE, False)],
        [(ehf_g_col_x, ehf_g_col_y, PURPLE, False), (ehf_g_upper_x, ehf_g_upper_y, PURPLE, True),
         (ehf_g_lower_x, ehf_g_lower_y, PURPLE, True), (ehf_g_scat_x, ehf_g_scat_y, PURPLE, False)],
    ],
]

ylims = [(-9, -1), (20, 60), (-12, -4)]
ysteps = [1, 5, 1]

lefts = [0.0996, 0.4207, 0.7392]
widths = [0.2503, 0.2490, 0.2516]
bottoms = [0.650, 0.3486, 0.0498]
heights = [0.2818, 0.2805, 0.2805]

fig = plt.figure(figsize=(7.63, 7.63), dpi=100)

for r in range(3):
    for c in range(3):
        ax = fig.add_axes([lefts[c], bottoms[r], widths[c], heights[r]])
        for x, ly, col, joined in panels[r][c]:
            yv = 10.0 ** np.array(ly)
            if joined:
                ax.plot(x, yv, '-o', color=col, lw=2.9, ms=3.6, mew=0, solid_capstyle='round')
            else:
                ax.plot(x, yv, 'o', color=col, ms=3.6, mew=0)
        ax.set_yscale('log')
        lo, hi = ylims[r]
        ax.set_ylim(10.0 ** lo, 10.0 ** hi)
        ax.set_xlim(0, 49000)
        exps = list(range(lo, hi + 1, ysteps[r]))
        ax.yaxis.set_major_locator(FixedLocator([10.0 ** e for e in exps]))
        ax.yaxis.set_minor_locator(FixedLocator([]))
        ax.yaxis.set_major_formatter(FuncFormatter(lambda v, p: '1e%+03d' % round(np.log10(v))))
        ax.xaxis.set_major_locator(MultipleLocator(10000))
        ax.xaxis.set_minor_locator(MultipleLocator(2000))
        ax.tick_params(which='both', direction='in', top=True, right=True, labelsize=10.5)
        ax.tick_params(which='major', length=4, width=1)
        ax.tick_params(which='minor', length=2, width=0.8)
        ax.tick_params(axis='y', pad=5)
        ax.tick_params(axis='x', pad=5)
        for s in ax.spines.values():
            s.set_linewidth(1.6)
        if r == 2:
            ax.set_xlabel('Period [s]', fontsize=10.5, labelpad=1.5)
        else:
            ax.set_xticklabels([])
        if r == 0:
            ax.set_title(titles[c], fontsize=11, pad=10)
        if c == 0:
            ax.set_ylabel(ylabels[r], fontsize=11)
            ax.yaxis.set_label_coords(-0.32, 0.5)
        if r == 1:
            handles = [plt.Line2D([], [], ls='', marker='o', color=k, ms=3.6, mew=0)
                       for k in (PURPLE, GREEN, BLUE)]
            ax.legend(handles, legend_labels, loc='lower right', bbox_to_anchor=(0.93, -0.01),
                      frameon=False, markerfirst=False, fontsize=10, handlelength=1.2,
                      handletextpad=1.4, labelspacing=0.0, borderaxespad=0.0, borderpad=0.1)

fig.savefig('out.png', dpi=100)
